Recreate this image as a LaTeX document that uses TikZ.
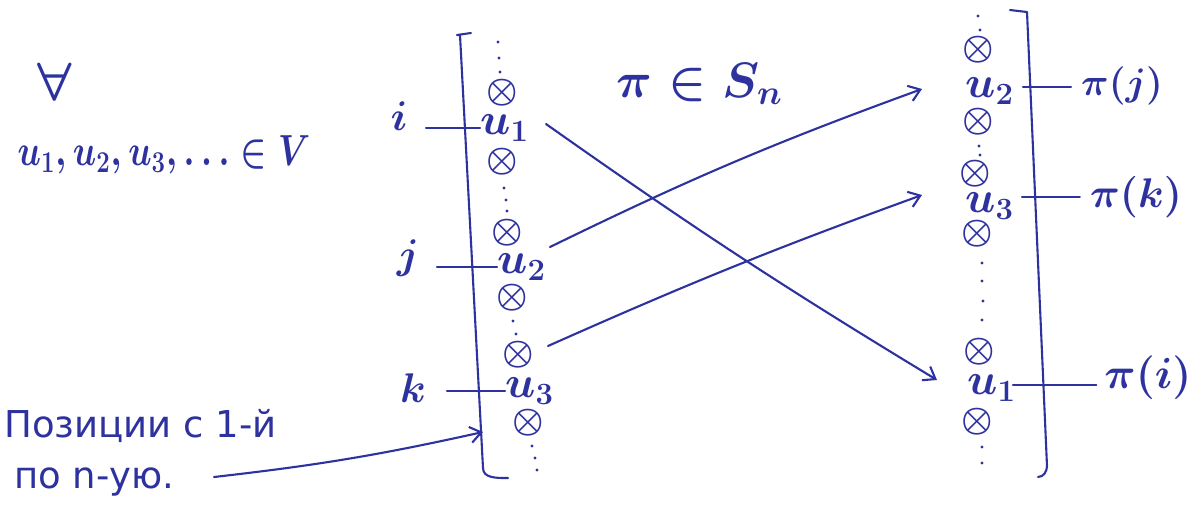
\documentclass[tikz,border=0pt]{standalone}
\usepackage{graphicx}
\usepackage{fontspec}
\newfontfamily\rufont{DejaVu Sans}
\usetikzlibrary{arrows.meta}
\definecolor{penblue}{RGB}{46,50,158}
\newcommand\hwmath[2]{\scalebox{#1}{\fontsize{20.74}{24}\selectfont\boldmath$#2$}}
\begin{document}
\begin{tikzpicture}[x=1pt,y=-1pt,
  pen/.style={draw=penblue,line width=2.1pt,line cap=round,line join=round},
  arr/.style={pen,-{Straight Barb[length=11pt,width=16pt]}},
  hw/.style={text=penblue,inner sep=0pt},
  ulbl/.style={hw,anchor=west},
  dotm/.style={circle,fill=penblue,inner sep=0pt,minimum size=3.2pt}]
\useasboundingbox[fill=white] (0,0) rectangle (1203,520);

% ---------- top-left text ----------
\node[hw] (forall) at (55,82) {\hwmath{2.6}{\forall}};
\node[hw] (elems) at (164,155) {\scalebox{1.66}[2.1]{\fontsize{20.74}{24}\selectfont\boldmath$u_1, u_2, u_3, \ldots \in V$}};
\node[hw] (perm) at (700,84) {\hwmath{2.4}{\pi \in S_n}};

% ---------- left bracket ----------
\coordinate (lbt1) at (457,35);
\coordinate (lbt2) at (471,33);
\coordinate (lbb1) at (483,468);
\coordinate (lbb2) at (508,478);
\draw[pen] (lbt2) -- (lbt1) -- (460,35) -- (lbb1) to[out=-90,in=180] (lbb2);

% left column
\node[dotm] (ld1) at (498,42) {};
\node[dotm] (ld2) at (499,58) {};
\node[dotm] (ld3) at (500,72) {};
\node[hw] (lo1) at (502,93) {\hwmath{1.7}{\otimes}};
\node[ulbl] (lu1) at (480,128) {\hwmath{2.15}{u_1}};
\node[hw] (lo2) at (502,162) {\hwmath{1.7}{\otimes}};
\node[dotm] (ld4) at (504,188) {};
\node[dotm] (ld5) at (506,200) {};
\node[dotm] (ld6) at (507,211) {};
\node[hw] (lo3) at (507,233) {\hwmath{1.7}{\otimes}};
\node[ulbl] (lu2) at (497,267) {\hwmath{2.15}{u_2}};
\node[hw] (lo4) at (512,298) {\hwmath{1.7}{\otimes}};
\node[dotm] (ld7) at (513,321) {};
\node[dotm] (ld8) at (516,334) {};
\node[hw] (lo5) at (518,355) {\hwmath{1.7}{\otimes}};
\node[ulbl] (lu3) at (505,391) {\hwmath{2.15}{u_3}};
\node[hw] (lo6) at (528,423) {\hwmath{1.7}{\otimes}};
\node[dotm] (ld9) at (532,446) {};
\node[dotm] (ld10) at (535,458) {};
\node[dotm] (ld11) at (537,470) {};

% left position labels + ticks
\node[hw] (li) at (399,116) {\hwmath{2.0}{i}};
\node[hw] (lj) at (408,258) {\hwmath{2.0}{j}};
\node[hw] (lk) at (413,388) {\hwmath{2.0}{k}};
\coordinate (ti) at (426,128);
\coordinate (tj) at (437,267);
\coordinate (tk) at (447,391);
\draw[pen] (ti) -- (lu1.west);
\draw[pen] (tj) -- (lu2.west);
\draw[pen] (tk) -- (lu3.west);

% ---------- right bracket ----------
\coordinate (rbt1) at (1010,10);
\coordinate (rbt2) at (1027,12);
\coordinate (rbb1) at (1047,466);
\coordinate (rbb2) at (1038,477);
\draw[pen] (rbt1) -- (rbt2) -- (rbb1) to[out=-90,in=0] (rbb2);

% right column
\node[dotm] (rd1) at (978,16) {};
\node[dotm] (rd2) at (980,30) {};
\node[hw] (ro1) at (978,50) {\hwmath{1.7}{\otimes}};
\node[ulbl] (ru2) at (965,91) {\hwmath{2.15}{u_2}};
\node[hw] (ro2) at (978,122) {\hwmath{1.7}{\otimes}};
\node[dotm] (rd3) at (979,146) {};
\node[dotm] (rd4) at (980,155) {};
\node[hw] (ro3) at (975,174) {\hwmath{1.7}{\otimes}};
\node[ulbl] (ru3) at (965,206) {\hwmath{2.15}{u_3}};
\node[hw] (ro4) at (977,234) {\hwmath{1.7}{\otimes}};
\node[dotm] (rd5) at (982,263) {};
\node[dotm] (rd6) at (982,281) {};
\node[dotm] (rd7) at (983,301) {};
\node[dotm] (rd8) at (982,320) {};
\node[hw] (ro5) at (979,352) {\hwmath{1.7}{\otimes}};
\node[ulbl] (ru1) at (967,388) {\hwmath{2.15}{u_1}};
\node[hw] (ro6) at (977,422) {\hwmath{1.7}{\otimes}};
\node[dotm] (rd9) at (982,447) {};
\node[dotm] (rd10) at (982,463) {};

% right position labels + ticks
\node[hw] (pj) at (1122,86) {\hwmath{1.85}{\pi(j)}};
\node[hw] (pk) at (1136,197) {\hwmath{2.0}{\pi(k)}};
\node[hw] (pi) at (1148,378) {\hwmath{2.1}{\pi(i)}};
\coordinate (tpj) at (1023,87);
\coordinate (tpk) at (1022,197);
\coordinate (tpi) at (1013,385);
\draw[pen,shorten >=10pt] (tpj) -- (pj.west |- tpj);
\draw[pen,shorten >=10pt] (tpk) -- (pk.west |- tpk);
\draw[pen,shorten >=8pt] (tpi) -- (pi.west |- tpi);

% ---------- permutation arrows ----------
\coordinate (a1s) at (546,124);
\coordinate (a1e) at (937,380);
\coordinate (a2s) at (550,247);
\coordinate (a2e) at (922,89);
\coordinate (a3s) at (548,346);
\coordinate (a3e) at (922,195);
\draw[arr] (a1s) to[bend right=2] (a1e);
\draw[arr] (a2s) to[bend left=3] (a2e);
\draw[arr] (a3s) to[bend left=2] (a3e);

% ---------- bottom-left note ----------
\node[hw,font=\rufont\fontsize{37}{42}\selectfont,anchor=west] (note1) at (4,426) {Позиции с 1-й};
\node[hw,font=\rufont\fontsize{37}{42}\selectfont,anchor=west] (note2) at (14,482) {по n-ую.};
\coordinate (a4s) at (214,477);
\coordinate (a4e) at (483,432);
\draw[arr] (a4s) to[bend right=3] (a4e);
\end{tikzpicture}
\end{document}
